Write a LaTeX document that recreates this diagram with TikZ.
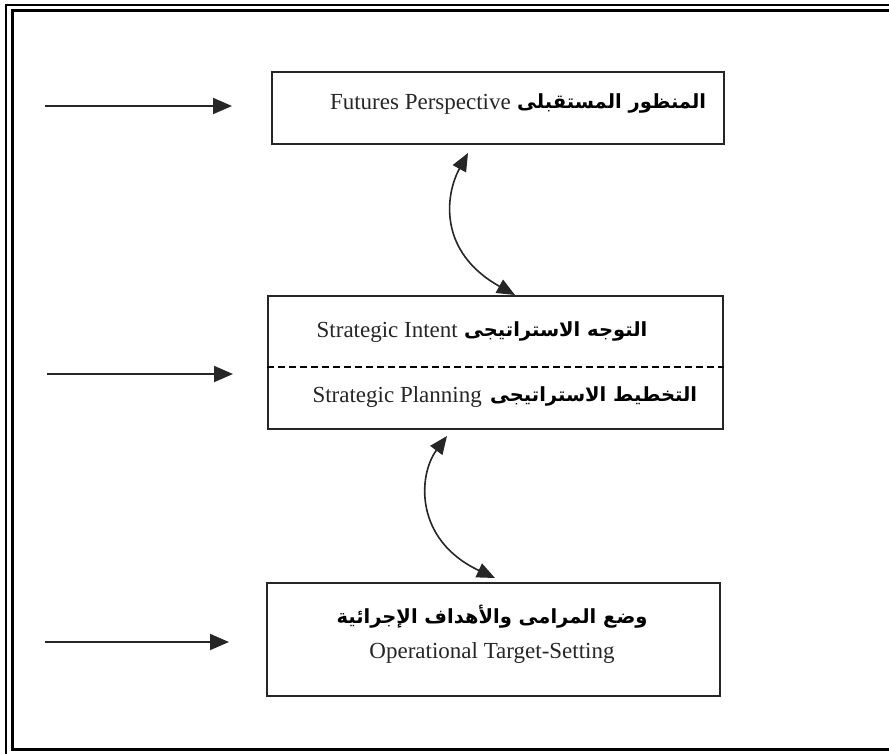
\documentclass[tikz,border=0pt]{standalone}
\usepackage{fontspec}
\setmainfont{Liberation Serif}
\newfontfamily\arabicfont[Script=Arabic]{DejaVu Sans}
\TeXXeTstate=1
\usetikzlibrary{arrows.meta}
\begin{document}
\begin{tikzpicture}[x=1pt,y=-1pt,
  stagebox/.style={draw=black!85,line width=1.8pt,minimum width=#1,inner sep=0pt},
  latintxt/.style={font=\fontsize{23}{28}\selectfont,inner sep=0pt,text=black!85},
  arabtxt/.style={font=\arabicfont\bfseries\fontsize{19.5}{26}\selectfont,inner sep=0pt,text=black},
  feed/.style={line width=1.8pt,draw=black!85,-{Triangle[length=19pt,width=16pt]}},
  link/.style={line width=1.6pt,draw=black!85,{Triangle[length=18pt,width=15pt]}-{Triangle[length=18pt,width=15pt]}}]
  \useasboundingbox (0,0) rectangle (889,753);
  \fill[white] (0,0) rectangle (889,753);
  \begin{scope}
    \clip (0,0) rectangle (889,753);
    % double page frame
    \draw[line width=2pt] (6,5) rectangle (905,770);
    \draw[line width=3pt] (12.5,10.5) rectangle (905,749);
  \end{scope}

  % stage boxes
  \node[stagebox=452pt,minimum height=72pt] (b1) at (498,108) {};
  \node[stagebox=455pt,minimum height=133pt] (b2) at (495.5,362.5) {};
  \node[stagebox=453pt,minimum height=113pt] (b3) at (493.5,639.5) {};
  \draw[line width=1.3pt,dash pattern=on 7pt off 4pt] (b2.west |- 0,367) coordinate (dl) -- (b2.east |- 0,367) coordinate (dr);

  % box texts
  \node[latintxt,anchor=east] (t1l) at (511,104) {Futures Perspective};
  \node[arabtxt,anchor=west] (t1a) at (517,103) {\beginR المنظور المستقبلى\endR};
  \node[latintxt,anchor=east] (t2l) at (458,332) {Strategic Intent};
  \node[arabtxt,anchor=west] (t2a) at (464,331) {\beginR التوجه الاستراتيجى\endR};
  \node[latintxt,anchor=east] (t3l) at (482,397) {Strategic Planning};
  \node[arabtxt,anchor=west] (t3a) at (490,396) {\beginR التخطيط الاستراتيجى\endR};
  \node[arabtxt] (t4a) at (492,617) {\beginR وضع المرامى والأهداف الإجرائية\endR};
  \node[latintxt] (t4l) at (492,653) {Operational Target-Setting};

  % incoming arrows on the left
  \coordinate (f1s) at (45,106);  \coordinate (f1e) at (232,106);
  \coordinate (f2s) at (47,374);  \coordinate (f2e) at (233,374);
  \coordinate (f3s) at (45,642);  \coordinate (f3e) at (229,642);
  \draw[feed] (f1s) -- (f1e);
  \draw[feed] (f2s) -- (f2e);
  \draw[feed] (f3s) -- (f3e);

  % two-way links between the stages
  \coordinate (l1a) at (468,153);  \coordinate (l1b) at (515,295);
  \coordinate (l2a) at (447,436);  \coordinate (l2b) at (495,578);
  \draw[link] (l1a) .. controls (445,195) and (438,252) .. (l1b);
  \draw[link] (l2a) .. controls (418,475) and (414,540) .. (l2b);
\end{tikzpicture}
\end{document}
